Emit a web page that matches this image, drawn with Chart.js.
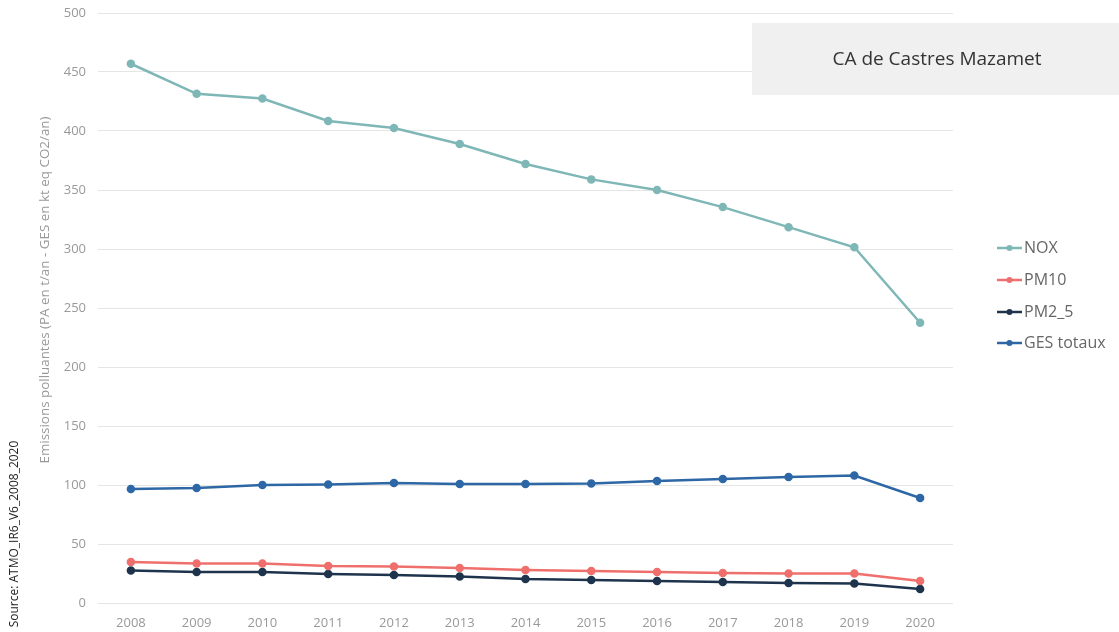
<!DOCTYPE html>
<html>
<head>
<meta charset="utf-8">
<script src="https://cdn.jsdelivr.net/npm/chart.js@4/dist/chart.umd.min.js"></script>
<style>
  html, body { margin: 0; padding: 0; background: #fff; }
  #wrap { width: 1119px; height: 632px; position: relative; }
</style>
</head>
<body>
<div id="wrap"><canvas id="emissions"></canvas></div>
<script>
const years = ['2008', '2009', '2010', '2011', '2012', '2013', '2014', '2015', '2016', '2017', '2018', '2019', '2020'];
const nox = [457, 431.5, 427.5, 408.5, 402.5, 389, 372, 359, 350, 335.5, 318.5, 301.5, 237.5];
const pm10 = [34.7, 33.5, 33.5, 31.4, 31, 29.7, 28, 27.1, 26.3, 25.4, 25, 25, 18.6];
const pm25 = [27.5, 26.3, 26.3, 24.6, 23.7, 22.5, 20.3, 19.5, 18.6, 17.8, 16.9, 16.5, 11.9];
const ges = [96.6, 97.5, 100, 100.4, 101.7, 100.8, 100.8, 101.3, 103.4, 105, 106.8, 108, 89];
const yTicks = [0, 50, 100, 150, 200, 250, 300, 350, 400, 450, 500];

const FONT = "'Open Sans', 'Noto Sans', sans-serif";

function series(label, data, color) {
    return {
        label: label,
        data: data,
        borderColor: color,
        backgroundColor: color,
        borderWidth: 2.5,
        pointRadius: 3,
        pointHoverRadius: 3,
        tension: 0
    };
}

function vText(ctx, text, x, y, font, color) {
    ctx.save();
    ctx.translate(x, y);
    ctx.rotate(-Math.PI / 2);
    ctx.fillStyle = color;
    ctx.font = font;
    ctx.textAlign = 'center';
    ctx.textBaseline = 'middle';
    ctx.fillText(text, 0, 0);
    ctx.restore();
}

// axis title, title box, side legend and source note drawn on top of the chart
const decorations = {
    id: 'decorations',
    afterDraw(chart) {
        const ctx = chart.ctx;
        ctx.save();

        vText(ctx, 'Emissions polluantes (PA en t/an - GES en kt eq CO2/an)', 45, 290,
              '13.4px ' + FONT, '#999');
        vText(ctx, 'Source: ATMO_IR6_V6_2008_2020', 15, 534, '12px ' + FONT, '#222');

        ctx.fillStyle = '#f0f0f0';
        ctx.fillRect(752, 23, 367, 72);
        ctx.fillStyle = '#333';
        ctx.font = '19px ' + FONT;
        ctx.textAlign = 'center';
        ctx.textBaseline = 'middle';
        ctx.fillText('CA de Castres Mazamet', 937, 60);

        const rows = [248, 280, 312, 343];
        chart.data.datasets.forEach((ds, i) => {
            const y = rows[i];
            ctx.strokeStyle = ds.borderColor;
            ctx.lineWidth = 2.5;
            ctx.beginPath();
            ctx.moveTo(997, y);
            ctx.lineTo(1022, y);
            ctx.stroke();
            ctx.fillStyle = ds.borderColor;
            ctx.beginPath();
            ctx.arc(1009.5, y, 3, 0, Math.PI * 2);
            ctx.fill();
            ctx.fillStyle = '#666';
            ctx.font = '16px ' + FONT;
            ctx.textAlign = 'left';
            ctx.fillText(ds.label, 1024, y);
        });
        ctx.restore();
    }
};

new Chart(document.getElementById('emissions'), {
    type: 'line',
    data: {
        labels: years,
        datasets: [
            series('NOX', nox, '#7fb7b7'),
            series('PM10', pm10, '#ef6f6c'),
            series('PM2_5', pm25, '#1e344d'),
            series('GES totaux', ges, '#2e67a5')
        ]
    },
    options: {
        responsive: true,
        maintainAspectRatio: false,
        animation: false,
        layout: { padding: { left: 0, right: 166, top: 13, bottom: 0 } },
        plugins: {
            legend: { display: false },
            tooltip: { enabled: false }
        },
        scales: {
            x: {
                offset: true,
                grid: { display: false },
                border: { display: false },
                ticks: { color: '#999', font: { family: FONT, size: 13 }, padding: 4, maxRotation: 0 },
                afterFit(scale) { scale.height = 29; }
            },
            y: {
                min: 0,
                max: 500,
                afterBuildTicks(scale) { scale.ticks = yTicks.map(v => ({ value: v })); },
                grid: { color: '#e5e5e5', lineWidth: 1, drawTicks: false },
                border: { display: false },
                ticks: { color: '#999', font: { family: FONT, size: 13 }, padding: 12 },
                afterFit(scale) {
                    scale.width = 98;
                    scale.paddingTop = 0;
                    scale.paddingBottom = 0;
                }
            }
        }
    },
    plugins: [decorations]
});
</script>
</body>
</html>
